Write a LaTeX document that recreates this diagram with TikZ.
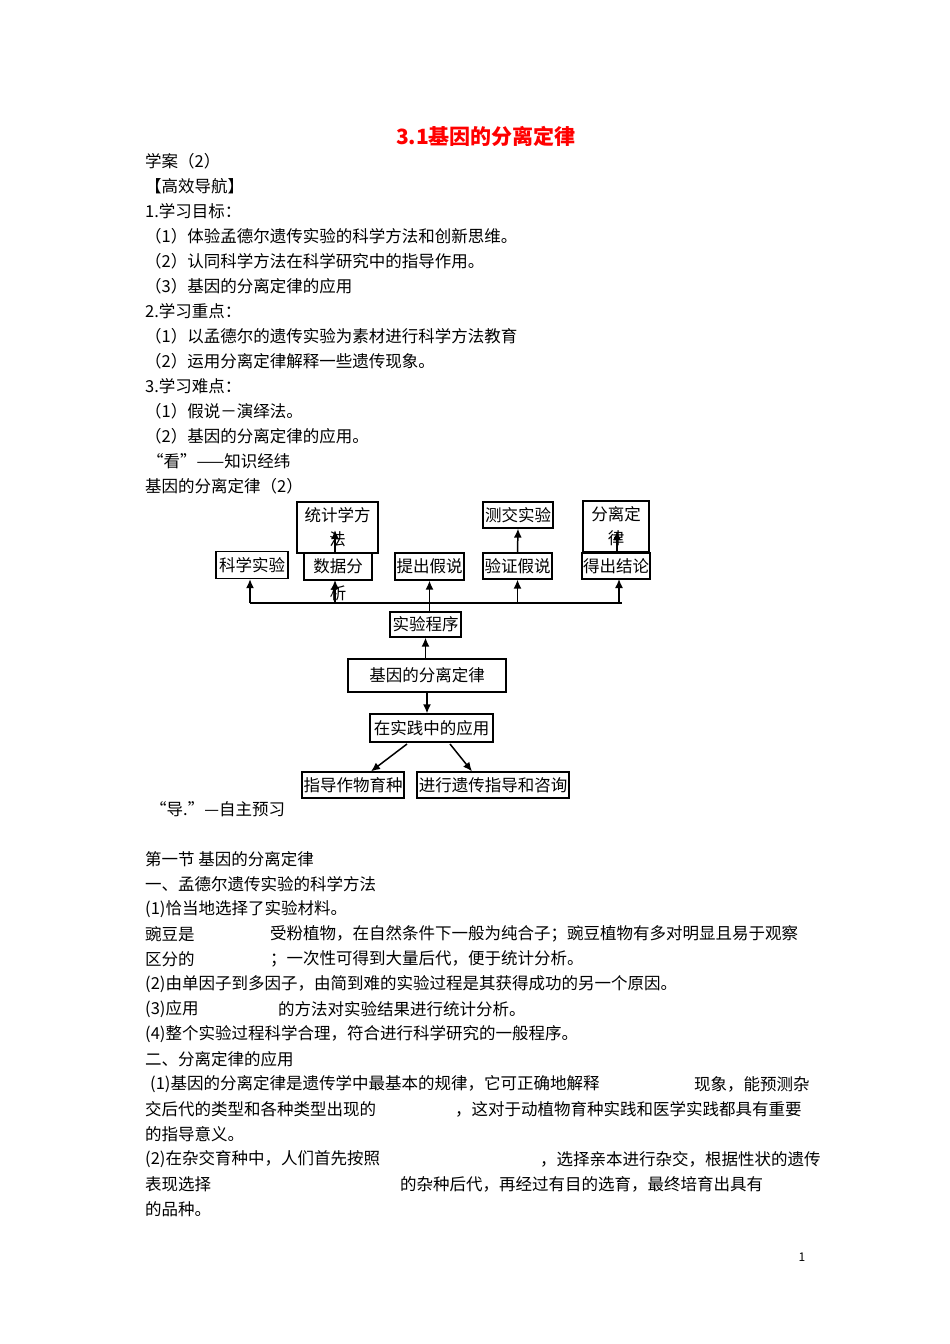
\documentclass[tikz,border=0pt]{standalone}
\usepackage{fontspec}
\setmainfont{Noto Sans CJK SC}
\usetikzlibrary{arrows.meta}
\begin{document}
\begin{tikzpicture}[x=1pt,y=-1pt,
  txt/.style={anchor=west,inner sep=0pt,font=\fontsize{16.5}{24}\selectfont},
  bx/.style={draw,line width=1.3pt,inner sep=0pt,font=\fontsize{16.5}{24}\selectfont,align=center},
  ar/.style={line width=1.5pt,-{Latex[length=9pt,width=8pt]}}]
\useasboundingbox[fill=white] (0,0) rectangle (950,1344);
\node[inner sep=0,font=\fontsize{21}{24}\selectfont\bfseries,text=red] (title) at (486,136) {3.1基因的分离定律};
\node[txt] (l1) at (145,161) {学案（2）};
\node[txt] (l2) at (145,186) {【高效导航】};
\node[txt] (l3) at (145,211) {1.学习目标：};
\node[txt] (l4) at (145,236) {（1）体验孟德尔遗传实验的科学方法和创新思维。};
\node[txt] (l5) at (145,261) {（2）认同科学方法在科学研究中的指导作用。};
\node[txt] (l6) at (145,286) {（3）基因的分离定律的应用};
\node[txt] (l7) at (145,311) {2.学习重点：};
\node[txt] (l8) at (145,336) {（1）以孟德尔的遗传实验为素材进行科学方法教育};
\node[txt] (l9) at (145,361) {（2）运用分离定律解释一些遗传现象。};
\node[txt] (l10) at (145,386) {3.学习难点：};
\node[txt] (l11) at (145,411) {（1）假说－演绎法。};
\node[txt] (l12) at (145,436) {（2）基因的分离定律的应用。};
\node[txt] (l13) at (147,461) {“看”——知识经纬};
\node[txt] (l14) at (145,486) {基因的分离定律（2）};
% diagram
\node[bx,minimum width=72,minimum height=27] (kx) at (252,565) {科学实验};
\node[bx,minimum width=81,minimum height=51] (tj) at (337.5,527.5) {统计学方\\法};
\node[bx,minimum width=68,minimum height=27,fill=white] (sj) at (338,566.5) {数据分};
\node[inner sep=0,font=\fontsize{16.5}{24}\selectfont] (xi) at (338,593) {析};
\node[bx,minimum width=69,minimum height=27] (tc) at (429.5,566.5) {提出假说};
\node[bx,minimum width=70,minimum height=26] (cj) at (518,515) {测交实验};
\node[bx,minimum width=69,minimum height=26] (yz) at (517.5,566) {验证假说};
\node[bx,minimum width=66,minimum height=51] (fl) at (616,526.5) {分离定\\律};
\node[bx,minimum width=68,minimum height=26,fill=white] (dc) at (616,566) {得出结论};
\node[bx,minimum width=71,minimum height=25] (sy) at (425.5,624.5) {实验程序};
\node[bx,minimum width=158,minimum height=33] (jy) at (427,675.5) {\raisebox{-5pt}{基因的分离定律}};
\node[bx,minimum width=123,minimum height=28] (zs) at (431.5,728) {在实践中的应用};
\node[bx,minimum width=102,minimum height=26] (zd) at (353,785) {指导作物育种};
\node[bx,minimum width=152,minimum height=26] (jx) at (493,785) {进行遗传指导和咨询};
\coordinate (hl) at (250,603);
\coordinate (hr) at (622,603);
\draw[line width=1.5pt] (hl) -- (hr);
\draw[ar] (hl) -- (kx.south -| hl);
\draw[ar] (335,603) -- (335,580);
\draw[ar] (sy.north -| tc) -- (tc.south);
\draw[ar] (yz.south |- hr) -- (yz.south);
\draw[ar] (619,603) -- (619,579);
\draw[ar] (335,553) -- (335,530);
\draw[ar] (yz.north) -- (cj.south);
\draw[ar] (617,553) -- (617,531);
\draw[ar] (jy.north -| sy) -- (sy.south);
\draw[ar] (jy.south) -- (zs.north -| jy);
\draw[ar] (407,744) -- (zd.north -| 371,0);
\draw[ar] (450,744) -- (jx.north -| 472,0);
\node[txt] (l15) at (150,809) {“导.”—自主预习};
\node[txt] (l16) at (145,859) {第一节\ 基因的分离定律};
\node[txt] (l17) at (145,884) {一、孟德尔遗传实验的科学方法};
\node[txt] (l18) at (145,909) {(1)恰当地选择了实验材料。};
\node[txt] (l19a) at (145,934) {豌豆是};
\node[txt] (l19b) at (270,934) {受粉植物，在自然条件下一般为纯合子；豌豆植物有多对明显且易于观察};
\node[txt] (l20a) at (145,959) {区分的};
\node[txt] (l20b) at (270,959) {；一次性可得到大量后代，便于统计分析。};
\node[txt] (l21) at (145,984) {(2)由单因子到多因子，由简到难的实验过程是其获得成功的另一个原因。};
\node[txt] (l22a) at (145,1009) {(3)应用};
\node[txt] (l22b) at (278,1009) {的方法对实验结果进行统计分析。};
\node[txt] (l23) at (145,1034) {(4)整个实验过程科学合理，符合进行科学研究的一般程序。};
\node[txt] (l24) at (145,1059) {二、分离定律的应用};
\node[txt] (l25a) at (150,1084) {(1)基因的分离定律是遗传学中最基本的规律，它可正确地解释};
\node[txt] (l25b) at (694,1084) {现象，能预测杂};
\node[txt] (l26a) at (145,1109) {交后代的类型和各种类型出现的};
\node[txt] (l26b) at (455,1109) {，这对于动植物育种实践和医学实践都具有重要};
\node[txt] (l27) at (145,1134) {的指导意义。};
\node[txt] (l28a) at (145,1159) {(2)在杂交育种中，人们首先按照};
\node[txt] (l28b) at (540,1159) {，选择亲本进行杂交，根据性状的遗传};
\node[txt] (l29a) at (145,1184) {表现选择};
\node[txt] (l29b) at (400,1184) {的杂种后代，再经过有目的选育，最终培育出具有};
\node[txt] (l30) at (145,1209) {的品种。};
\node[inner sep=0,font=\fontsize{12}{14}\selectfont] (pg) at (802,1257) {1};
\end{tikzpicture}
\end{document}
